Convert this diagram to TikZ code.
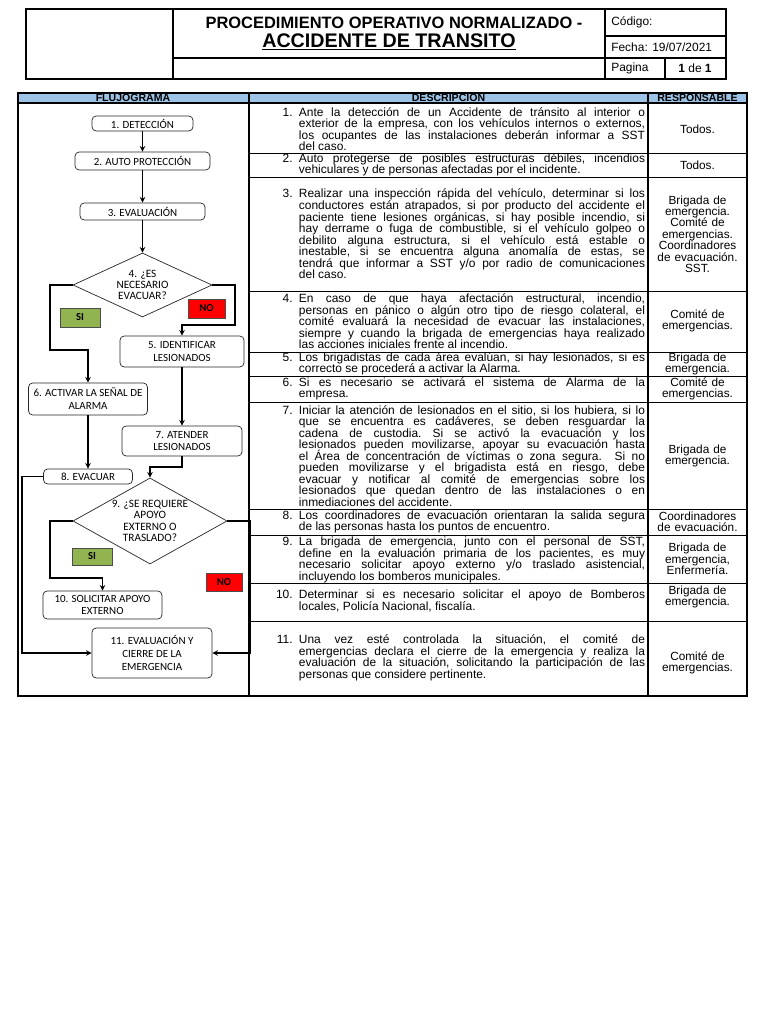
\documentclass[tikz,border=0pt]{standalone}
\usepackage{fontspec}
\setmainfont{Liberation Sans}
\newfontfamily\flowfont{Carlito}
\usetikzlibrary{shapes.geometric}

\definecolor{headblue}{RGB}{157,195,230}
\definecolor{sigreen}{RGB}{146,180,80}
\definecolor{nored}{RGB}{255,0,0}

\newcommand{\itemno}[1]{\leavevmode\llap{#1.\hspace{4.5pt}}}
\newcommand{\desctext}{\fontsize{8.5pt}{8.2pt}\selectfont\frenchspacing\setlength{\lineskiplimit}{-10pt}}
\newcommand{\resptext}{\fontsize{8.4pt}{8.1pt}\selectfont\setlength{\lineskiplimit}{-10pt}}

\tikzset{
  stepbox/.style={draw=black!85, line width=0.5pt, rounded corners=3pt, fill=white,
    font=\flowfont\fontsize{7.8pt}{9.1pt}\selectfont, align=center, inner sep=0pt},
  decision/.style={draw=black!85, line width=0.5pt, diamond, fill=white,
    font=\flowfont\fontsize{8pt}{8pt}\selectfont, align=center, inner sep=0pt},
  tag/.style={draw=black!70, line width=0.4pt, font=\flowfont\bfseries\fontsize{7.6pt}{8pt}\selectfont, inner sep=0pt},
  link/.style={->, line width=0.8pt},
  colhead/.style={font=\bfseries\fontsize{7.5pt}{8pt}\selectfont, inner sep=0pt},
  cell/.style={font=\fontsize{8.5pt}{10pt}\selectfont, inner sep=0pt},
  desc/.style={font=\desctext, text width=8.65cm, align=justify, inner sep=0pt},
  resp/.style={font=\resptext, text width=2.4cm, align=center, inner sep=0pt}
}

\begin{document}
\begin{tikzpicture}[x=0.025cm, y=-0.025cm, >=stealth]
  \useasboundingbox (0,0) rectangle (768,1024);

  % cabecera
  \draw[line width=0.8pt] (26,9) rectangle (726,79);
  \draw[line width=0.8pt] (173,9) -- (173,79);
  \draw[line width=0.8pt] (605,9) -- (605,79);
  \draw[line width=0.8pt] (605,36) -- (726,36);
  \draw[line width=0.8pt] (173,58) -- (726,58);
  \draw[line width=0.8pt] (665,58) -- (665,79);
  \node[font=\bfseries\fontsize{11.7pt}{13pt}\selectfont] (title) at (394,23) {PROCEDIMIENTO OPERATIVO NORMALIZADO -};
  \node[font=\bfseries\fontsize{14pt}{16pt}\selectfont] (subtitle) at (389,42) {\underline{ACCIDENTE DE TRANSITO}};
  \node[cell, anchor=west] (codigo) at (611,22) {Código:};
  \node[cell, anchor=west] (fecha) at (611,47) {Fecha: 19/07/2021};
  \node[cell, anchor=west] (pagina) at (611,68) {Pagina};
  \node[cell] (hoja) at (695,68) {\textbf{1} de \textbf{1}};

  % tabla
  \fill[headblue] (18,93) rectangle (747,103);
  \draw[line width=1pt] (18,93) rectangle (747,696);
  \draw[line width=0.8pt] (18,103) -- (747,103);
  \draw[line width=0.8pt] (249,93) -- (249,696);
  \draw[line width=0.8pt] (648,93) -- (648,696);
  \foreach \y in {153,177,291,352,376,402,509,535,583,621}
    \draw[line width=0.6pt] (249,\y) -- (747,\y);
  \node[colhead] (hflujo) at (133,98) {FLUJOGRAMA};
  \node[colhead] (hdesc) at (448.5,98) {DESCRIPCION};
  \node[colhead] (hresp) at (697.5,98) {RESPONSABLE};

  % descripcion
  \node[desc] (d1) at (472,129) {\itemno{1}Ante la detección de un Accidente de tránsito al interior o\linebreak exterior de la empresa, con los vehículos internos o externos,\linebreak los ocupantes de las instalaciones deberán informar a SST\linebreak del caso.};
  \node[desc] (d2) at (472,165) {\itemno{2}Auto protegerse de posibles estructuras débiles, incendios\linebreak vehiculares y de personas afectadas por el incidente.};
  \node[desc] (d3) at (472,234) {\itemno{3}Realizar una inspección rápida del vehículo, determinar si los\linebreak conductores están atrapados, si por producto del accidente el\linebreak paciente tiene lesiones orgánicas, si hay posible incendio, si\linebreak hay derrame o fuga de combustible, si el vehículo golpeo o\linebreak debilito alguna estructura, si el vehículo está estable o\linebreak inestable, si se encuentra alguna anomalía de estas, se\linebreak tendrá que informar a SST y/o por radio de comunicaciones\linebreak del caso.};
  \node[desc] (d4) at (472,321.5) {\itemno{4}En caso de que haya afectación estructural, incendio,\linebreak personas en pánico o algún otro tipo de riesgo colateral, el\linebreak comité evaluará la necesidad de evacuar las instalaciones,\linebreak siempre y cuando la brigada de emergencias haya realizado\linebreak las acciones iniciales frente al incendio.};
  \node[desc] (d5) at (472,364) {\itemno{5}Los brigadistas de cada área evalúan, si hay lesionados, si es\linebreak correcto se procederá a activar la Alarma.};
  \node[desc] (d6) at (472,389) {\itemno{6}Si es necesario se activará el sistema de Alarma de la\linebreak empresa.};
  \node[desc] (d7) at (472,456) {\itemno{7}Iniciar la atención de lesionados en el sitio, si los hubiera, si lo\linebreak que se encuentra es cadáveres, se deben resguardar la\linebreak cadena de custodia. Si se activó la evacuación y los\linebreak lesionados pueden movilizarse, apoyar su evacuación hasta\linebreak el Área de concentración de víctimas o zona segura.\ \ Si no\linebreak pueden movilizarse y el brigadista está en riesgo, debe\linebreak evacuar y notificar al comité de emergencias sobre los\linebreak lesionados que quedan dentro de las instalaciones o en\linebreak inmediaciones del accidente.};
  \node[desc] (d8) at (472,522) {\itemno{8}Los coordinadores de evacuación orientaran la salida segura\linebreak de las personas hasta los puntos de encuentro.};
  \node[desc] (d9) at (472,560) {\itemno{9}La brigada de emergencia, junto con el personal de SST,\linebreak define en la evaluación primaria de los pacientes, es muy\linebreak necesario solicitar apoyo externo y/o traslado asistencial,\linebreak incluyendo los bomberos municipales.};
  \node[desc] (d10) at (472,601) {\itemno{10}Determinar si es necesario solicitar el apoyo de Bomberos\linebreak locales, Policía Nacional, fiscalía.};
  \node[desc] (d11) at (472,658) {\itemno{11}Una vez esté controlada la situación, el comité de\linebreak emergencias declara el cierre de la emergencia y realiza la\linebreak evaluación de la situación, solicitando la participación de las\linebreak personas que considere pertinente.};

  % responsable
  \node[resp] (r1) at (697.5,129) {Todos.};
  \node[resp] (r2) at (697.5,165) {Todos.};
  \node[resp] (r3) at (697.5,234) {Brigada de\\ emergencia.\\ Comité de\\ emergencias.\\ Coordinadores\\ de evacuación.\\ SST.};
  \node[resp] (r4) at (697.5,321) {Comité de\\ emergencias.};
  \node[resp] (r5) at (697.5,364) {Brigada de\\ emergencia.};
  \node[resp] (r6) at (697.5,389) {Comité de\\ emergencias.};
  \node[resp] (r7) at (697.5,456) {Brigada de\\ emergencia.};
  \node[resp] (r8) at (697.5,522) {Coordinadores\\ de evacuación.};
  \node[resp] (r9) at (697.5,559) {Brigada de\\ emergencia,\\ Enfermería.};
  \node[resp] (r10) at (697.5,597) {Brigada de\\ emergencia.};
  \node[resp] (r11) at (697.5,663) {Comité de\\ emergencias.};

  % flujograma
  \node[stepbox, minimum width=2.525cm, minimum height=0.375cm] (s1) at (142.5,123.5) {1. DETECCIÓN};
  \node[stepbox, minimum width=3.375cm, minimum height=0.45cm] (s2) at (142.5,161) {2. AUTO PROTECCIÓN};
  \node[stepbox, minimum width=3.125cm, minimum height=0.425cm] (s3) at (142.5,211.5) {3. EVALUACIÓN};
  \node[decision, aspect=2.17, minimum width=3.475cm, minimum height=1.6cm] (q4) at (142.5,285) {4. ¿ES\\ NECESARIO\\ EVACUAR?};
  \node[stepbox, minimum width=3.1cm, minimum height=0.775cm] (s5) at (182,351.5) {5. IDENTIFICAR\\ LESIONADOS};
  \node[stepbox, minimum width=2.975cm, minimum height=0.8cm] (s6) at (88,399) {6. ACTIVAR LA SEÑAL DE\\ ALARMA};
  \node[stepbox, minimum width=3cm, minimum height=0.75cm] (s7) at (182,441) {7. ATENDER\\ LESIONADOS};
  \node[stepbox, minimum width=2.225cm, minimum height=0.375cm] (s8) at (88,476.5) {8. EVACUAR};
  \node[decision, aspect=1.79, minimum width=3.85cm, minimum height=2.15cm] (q9) at (150,521) {9. ¿SE REQUIERE\\ APOYO\\ EXTERNO O\\ TRASLADO?};
  \node[stepbox, minimum width=2.975cm, minimum height=0.7cm] (s10) at (102.5,605) {10. SOLICITAR APOYO\\ EXTERNO};
  \node[stepbox, minimum width=3cm, minimum height=1.25cm] (s11) at (152,653) {11. EVALUACIÓN Y\\ CIERRE DE LA\\ EMERGENCIA};

  \node[tag, fill=sigreen, minimum width=1cm, minimum height=0.475cm] (si4) at (80,317.5) {SI};
  \node[tag, fill=nored, minimum width=0.925cm, minimum height=0.475cm] (no4) at (206.5,308.5) {NO};
  \node[tag, fill=sigreen, minimum width=1cm, minimum height=0.425cm] (si9) at (92,556.5) {SI};
  \node[tag, fill=nored, minimum width=0.9cm, minimum height=0.45cm] (no9) at (224,582) {NO};

  \coordinate (q4l) at (50,350);
  \coordinate (q4r) at (235,325);
  \coordinate (s7b) at (182,467);
  \coordinate (s8l) at (22,653);
  \coordinate (q9l) at (50,578);
  \coordinate (q9r) at (250,653);

  \draw[link] (s1.south) -- (s2.north);
  \draw[link] (s2.south) -- (s3.north);
  \draw[link] (s3.south) -- (q4.north);
  \draw[link] (q4.west) -| (q4l) -| (s6.north);
  \draw[link] (q4.east) -| (q4r) -| (s5.north);
  \draw[link] (s5.south) -- (s7.north);
  \draw[link] (s6.south) -- (s8.north);
  \draw[link] (s7.south) -- (s7b) -| (q9.north);
  \draw[link] (s8.west) -| (s8l) -- (s11.west);
  \draw[link] (q9.west) -| (q9l) -| (s10.north);
  \draw[link] (q9.east) -| (q9r) -- (s11.east);
\end{tikzpicture}
\end{document}
